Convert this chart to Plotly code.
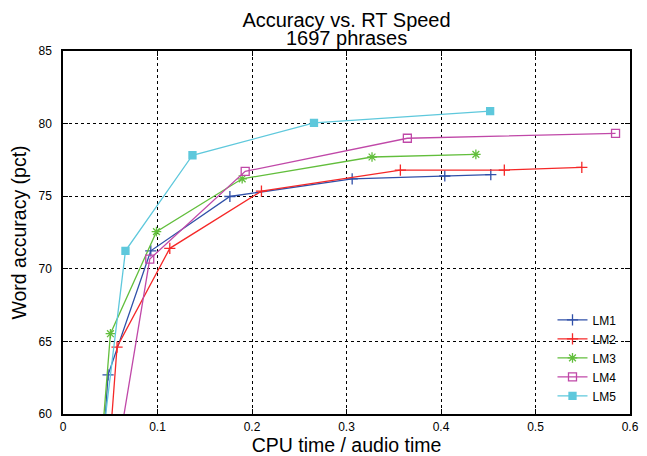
import plotly.graph_objects as go

series_names = ["LM1", "LM2", "LM3", "LM4", "LM5"]
# first point of each series lies below 60 and is clipped by the axis range (estimated)
lm1_x = [0.0397, 0.0477, 0.0929, 0.1766, 0.306, 0.404, 0.4527]
lm1_y = [55.0, 62.70, 71.24, 74.98, 76.20, 76.39, 76.48]
lm2_x = [0.0461, 0.0572, 0.113, 0.210, 0.357, 0.467, 0.549]
lm2_y = [55.0, 64.61, 71.41, 75.35, 76.80, 76.80, 76.99]
lm3_x = [0.0372, 0.0502, 0.0989, 0.1896, 0.327, 0.4369]
lm3_y = [55.0, 65.53, 72.56, 76.20, 77.70, 77.88]
lm4_x = [0.0519, 0.0918, 0.1928, 0.3644, 0.5847]
lm4_y = [55.0, 70.67, 76.71, 78.99, 79.32]
lm5_x = [0.0359, 0.0661, 0.137, 0.2656, 0.452]
lm5_y = [55.0, 71.24, 77.82, 80.05, 80.86]

xs = [lm1_x, lm2_x, lm3_x, lm4_x, lm5_x]
ys = [lm1_y, lm2_y, lm3_y, lm4_y, lm5_y]
colors = ["#3050a8", "#f52828", "#62be3c", "#c048a8", "#5ec8dc"]
symbols = ["cross-thin-open", "cross-thin-open", "asterisk-open", "square-open", "square"]
msizes = [8, 8, 8, 8, 7]

x_ticks = [0, 0.1, 0.2, 0.3, 0.4, 0.5, 0.6]
x_tick_labels = ["0", "0.1", "0.2", "0.3", "0.4", "0.5", "0.6"]
y_ticks = [60, 65, 70, 75, 80, 85]

fig = go.Figure()
for name, x, y, c, s, ms in zip(series_names, xs, ys, colors, symbols, msizes):
    fig.add_trace(go.Scatter(
        x=x, y=y, name=name, mode="lines+markers",
        line=dict(color=c, width=1.3),
        marker=dict(symbol=s, size=ms, color=c, line=dict(color=c, width=1.3)),
        cliponaxis=True,
    ))

font_family = "Liberation Sans, Arial, sans-serif"
# the page body has an 8px margin, so the figure is sized to fit inside it
fig.update_layout(
    width=639, height=448,
    margin=dict(l=55, r=17, t=43, b=42),
    paper_bgcolor="white", plot_bgcolor="white",
    font=dict(family=font_family, color="black", size=12),
    title=dict(text="Accuracy vs. RT Speed", x=0.5, xref="paper", xanchor="center",
               y=0.973, yref="container", yanchor="middle",
               font=dict(size=20, family=font_family)),
    annotations=[dict(text="1697 phrases", x=0.5, xref="paper", xanchor="center",
                      y=1.037, yref="paper", yanchor="middle", showarrow=False,
                      font=dict(size=20, family=font_family))],
    showlegend=True,
    legend=dict(x=0.985, y=0.01, xanchor="right", yanchor="bottom",
                bgcolor="rgba(0,0,0,0)", font=dict(size=12), tracegroupgap=0,
                itemwidth=30),
)
fig.update_xaxes(
    range=[0, 0.6], tickvals=x_ticks, ticktext=x_tick_labels,
    showline=True, linecolor="black", linewidth=1.5, mirror="allticks",
    ticks="inside", ticklen=5, tickcolor="black", ticklabelstandoff=1,
    showgrid=True, gridcolor="black", griddash="dot", gridwidth=1,
    zeroline=False, automargin=False,
    title=dict(text="CPU time / audio time", font=dict(size=19.5), standoff=2),
)
fig.update_yaxes(
    range=[60, 85], tickvals=y_ticks,
    showline=True, linecolor="black", linewidth=1.5, mirror="allticks",
    ticks="inside", ticklen=5, tickcolor="black", ticklabelstandoff=7,
    showgrid=True, gridcolor="black", griddash="dot", gridwidth=1,
    zeroline=False, automargin=False,
    title=dict(text="Word accuracy (pct)", font=dict(size=19.5), standoff=8),
)
fig.write_html("out.html")
